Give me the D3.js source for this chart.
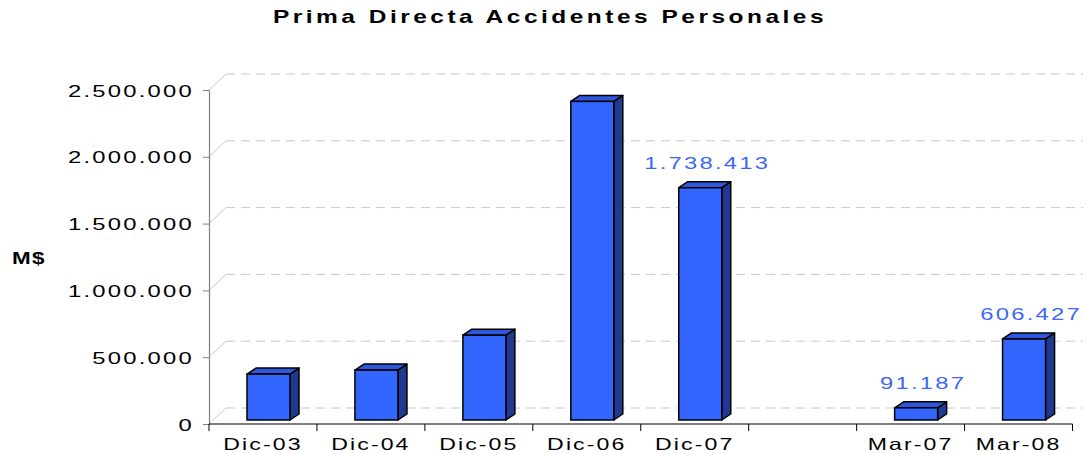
<!DOCTYPE html>
<html><head><meta charset="utf-8">
<script src="https://cdn.jsdelivr.net/npm/d3@7"></script>
<style>
html,body{margin:0;padding:0;background:#fff;}
svg{display:block;}
text{font-family:"Liberation Sans",Arial,sans-serif;}
</style></head>
<body>
<svg id="chart" width="1086" height="454"></svg>
<script>
const title = "Prima Directa Accidentes Personales";
const yLabel = "M$";
const categories = ["Dic-03","Dic-04","Dic-05","Dic-06","Dic-07"," ","Mar-07","Mar-08"];
const values = [343500, 373400, 635000, 2384600, 1738413, null, 91187, 606427];
const showLabel = [false, false, false, false, true, false, true, true];
const yTicks = [0, 500000, 1000000, 1500000, 2000000, 2500000];

const W = 1086, H = 454;
const left = 209, right = 1072.5, y0 = 424, yTop = 90;
const SX = 1.4;           // horizontal stretch of all text
const depthX = 17, depthY = 16;   // back wall offset
const barDX = 9, barDY = 6, barLift = 4, barOff = 38, barW = 43;

const loc = d3.formatLocale({decimal:",", thousands:".", grouping:[3], currency:["$",""]});
const fmt = loc.format(",d");

const svg = d3.select("#chart");
const x = d3.scaleBand().domain(categories).range([left, right]).padding(0);
const y = d3.scaleLinear().domain([0, 2500000]).range([y0, yTop]);

function stretch(sel, tx, ty){
  sel.attr("x", 0).attr("y", 0).attr("transform", (d,i)=>`translate(${typeof tx==="function"?tx(d,i):tx},${typeof ty==="function"?ty(d,i):ty}) scale(${SX},1)`);
}

// Title
svg.append("text").text(title)
  .attr("text-anchor","middle").attr("font-weight","bold").attr("font-size",17.5)
  .attr("letter-spacing",2.5).attr("fill","#000")
  .call(stretch, 550, 23);

// Y label
svg.append("text").text(yLabel)
  .attr("font-weight","bold").attr("font-size",16).attr("letter-spacing",1)
  .attr("fill","#000").call(stretch, 12, 264);

// Gridlines (back wall) + diagonals
const grid = svg.append("g");
grid.selectAll("line.dg").data(yTicks).join("line")
  .attr("x1", left).attr("y1", d=>y(d)).attr("x2", left+depthX).attr("y2", d=>y(d)-depthY)
  .attr("stroke","#c8c8c8").attr("stroke-width",1);
grid.selectAll("line.gl").data(yTicks).join("line")
  .attr("x1", left+depthX).attr("y1", d=>y(d)-depthY).attr("x2", 1083).attr("y2", d=>y(d)-depthY)
  .attr("stroke","#c8c8c8").attr("stroke-width",1).attr("stroke-dasharray","9,6");

// Y axis
const gy = svg.append("g").attr("transform",`translate(${left},0)`)
  .call(d3.axisLeft(y).tickValues(yTicks).tickFormat(fmt).tickSize(6).tickSizeOuter(0));
gy.select(".domain").attr("stroke","#808080").attr("stroke-width",1.2);
gy.selectAll(".tick line").attr("stroke","#808080");
gy.selectAll(".tick text")
  .attr("font-size",17).attr("letter-spacing",1.6).attr("fill","#000")
  .attr("font-family","Liberation Sans, Arial, sans-serif")
  .attr("dy","0.36em")
  .call(stretch, -15, 0);

// Bars
const barData = categories.map((c,i)=>({c, v: values[i], lab: showLabel[i]})).filter(d=>d.v!=null);
const bars = svg.append("g");
const fx = d => x(d.c) + barOff;
const ft = d => y(d.v) - barLift;
const fb = y(0) - barLift;
bars.selectAll("polygon.side").data(barData).join("polygon")
  .attr("points", d=>{const r=fx(d)+barW, t=ft(d);
    return [[r,t],[r+barDX,t-barDY],[r+barDX,fb-barDY],[r,fb]].map(p=>p.join(",")).join(" ");})
  .attr("fill","#1f3a8f").attr("stroke","#000").attr("stroke-width",1.5).attr("stroke-linejoin","round");
bars.selectAll("polygon.top").data(barData).join("polygon")
  .attr("points", d=>{const l=fx(d), r=l+barW, t=ft(d);
    return [[l,t],[l+barDX,t-barDY],[r+barDX,t-barDY],[r,t]].map(p=>p.join(",")).join(" ");})
  .attr("fill","#2e57dc").attr("stroke","#000").attr("stroke-width",1.5).attr("stroke-linejoin","round");
bars.selectAll("rect").data(barData).join("rect")
  .attr("x", fx).attr("y", ft).attr("width", barW).attr("height", d=>fb-ft(d))
  .attr("fill","#3366ff").attr("stroke","#000").attr("stroke-width",1.5);

// Value labels
svg.append("g").selectAll("text").data(barData.filter(d=>d.lab)).join("text")
  .text(d=>fmt(d.v))
  .attr("text-anchor","middle").attr("font-size",17).attr("letter-spacing",1.6)
  .attr("fill","#3d68f5")
  .call(stretch, d=>fx(d)+barW/2+7, d=>ft(d)-barDY-13);

// X axis
const gx = svg.append("g").attr("transform",`translate(0,${y0})`);
gx.append("line").attr("x1",left).attr("x2",right).attr("y1",0).attr("y2",0)
  .attr("stroke","#000").attr("stroke-width",1.2);
const bounds = categories.map(c=>x(c)).concat([x.range()[1]]);
gx.selectAll("line.tk").data(bounds).join("line")
  .attr("x1",d=>d).attr("x2",d=>d).attr("y1",0).attr("y2",7)
  .attr("stroke","#000").attr("stroke-width",1);
gx.selectAll("text").data(categories).join("text")
  .text(d=>d.trim())
  .attr("text-anchor","middle").attr("font-size",16.5).attr("letter-spacing",1.5).attr("fill","#000")
  .call(stretch, d=>x(d)+x.bandwidth()/2, 26);
</script>
</body></html>
